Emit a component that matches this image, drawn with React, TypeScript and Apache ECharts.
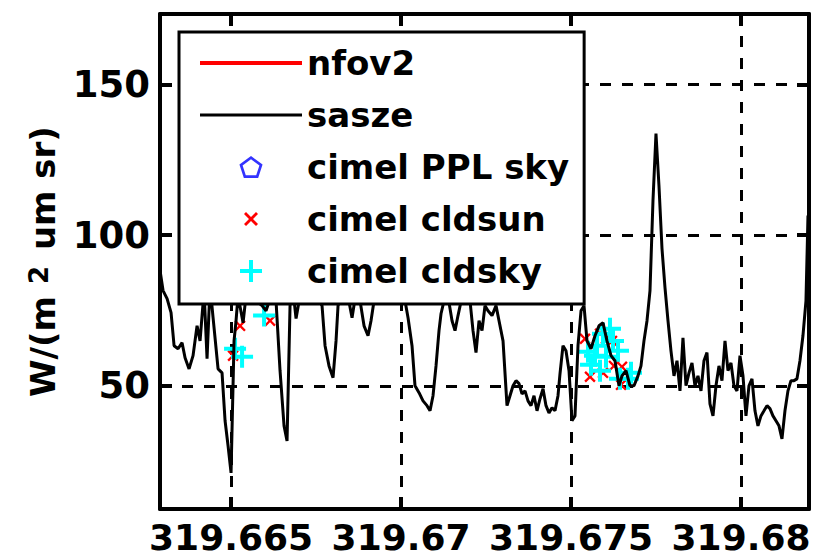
import React, { useEffect, useRef } from "react";
import * as echarts from "echarts";

// ---- data ----
const sasTime = [
  319.662912, 319.663, 319.663118, 319.663235, 319.663324, 319.663441, 319.663559, 319.663647, 319.663765, 319.663882,
  319.664, 319.664088, 319.664206, 319.664294, 319.664382, 319.664471, 319.664618, 319.664735, 319.664824, 319.664912,
  319.665, 319.665088, 319.665147, 319.665206, 319.665353, 319.665441, 319.665559, 319.665735, 319.665912, 319.666029,
  319.666147, 319.666323, 319.666441, 319.666559, 319.666647, 319.666735, 319.666823, 319.666912, 319.667029, 319.667206,
  319.667382, 319.667559, 319.667676, 319.667765, 319.667882, 319.668, 319.668088, 319.668147, 319.668265, 319.668441,
  319.668559, 319.668647, 319.668794, 319.668912, 319.669029, 319.669117, 319.669206, 319.669323, 319.669441, 319.669617,
  319.669794, 319.66997, 319.670117, 319.670206, 319.670323, 319.670411, 319.670529, 319.670647, 319.670764, 319.670853,
  319.670941, 319.671029, 319.671117, 319.671176, 319.671264, 319.671382, 319.6715, 319.671588, 319.671676, 319.671794,
  319.671911, 319.672029, 319.672117, 319.672205, 319.672294, 319.672382, 319.67247, 319.672558, 319.672676, 319.672794,
  319.672882, 319.673, 319.673117, 319.673205, 319.673294, 319.673382, 319.67347, 319.673558, 319.673647, 319.673735,
  319.673823, 319.673911, 319.674, 319.674088, 319.674176, 319.674264, 319.674352, 319.674441, 319.674529, 319.674617,
  319.674676, 319.674764, 319.674852, 319.674941, 319.675029, 319.675117, 319.675205, 319.675294, 319.675382, 319.67547,
  319.675588, 319.675705, 319.675823, 319.675941, 319.676058, 319.676176, 319.676293, 319.676411, 319.676499, 319.676617,
  319.676735, 319.676852, 319.67697, 319.677058, 319.677146, 319.677235, 319.677323, 319.677411, 319.677499, 319.677587,
  319.677676, 319.677764, 319.677852, 319.67794, 319.678029, 319.678117, 319.678205, 319.678293, 319.678382, 319.67847,
  319.678558, 319.678646, 319.678734, 319.678823, 319.678911, 319.678999, 319.679087, 319.679176, 319.679264, 319.679352,
  319.67944, 319.679529, 319.679617, 319.679705, 319.679793, 319.679881, 319.67997, 319.680058, 319.680146, 319.680234,
  319.680323, 319.680411, 319.680499, 319.680587, 319.680676, 319.680764, 319.680852, 319.68094, 319.681028, 319.681117,
  319.681205, 319.681293, 319.681381, 319.68147, 319.681558, 319.681646, 319.681734, 319.681822, 319.681911, 319.68197,
];
const sasValue = [
  88.2, 81.6, 78.9, 74.3, 63.3, 62.3, 64.3, 59.3, 55.6, 60.0,
  69.9, 64.9, 81.6, 59.0, 83.2, 72.6, 55.6, 54.3, 38.4, 30.1,
  21.1, 64.9, 71.6, 79.9, 70.9, 79.9, 81.6, 78.2, 76.6, 74.9,
  78.9, 78.2, 55.0, 36.7, 31.7, 76.6, 81.6, 72.3, 79.9, 80.9,
  81.6, 78.9, 76.6, 63.3, 56.6, 52.7, 64.9, 76.6, 79.9, 79.6,
  72.6, 78.9, 78.2, 69.9, 66.6, 71.6, 78.2, 80.9, 81.6, 83.2,
  82.2, 80.9, 78.2, 72.6, 63.3, 50.0, 47.7, 45.0, 43.4, 41.7,
  46.7, 56.6, 68.3, 73.9, 78.2, 79.6, 71.6, 68.3, 73.3, 79.6,
  78.2, 78.2, 68.3, 61.0, 71.6, 68.3, 76.6, 74.9, 73.3, 76.6,
  71.6, 64.9, 43.4, 46.7, 50.0, 51.7, 50.7, 47.3, 48.3, 45.0,
  43.4, 46.7, 41.7, 45.7, 49.0, 43.4, 41.0, 42.7, 41.7, 46.7,
  54.0, 63.3, 61.6, 55.0, 38.4, 40.0, 63.3, 74.9, 76.6, 64.9,
  62.3, 66.6, 69.9, 70.9, 64.9, 60.0, 58.3, 50.0, 53.3, 55.0,
  50.0, 50.0, 53.3, 56.6, 64.9, 71.6, 81.6, 111.5, 133.7, 116.4,
  95.5, 82.6, 71.6, 61.6, 53.3, 58.3, 48.3, 65.9, 50.0, 54.3,
  57.6, 50.0, 53.3, 48.3, 58.3, 61.0, 44.0, 40.0, 50.0, 56.6,
  51.7, 64.9, 55.0, 57.6, 50.0, 48.3, 60.0, 53.3, 40.0, 50.0,
  52.3, 41.7, 36.7, 40.0, 41.7, 43.4, 42.4, 40.0, 38.4, 36.7,
  32.4, 41.7, 48.3, 51.7, 51.7, 52.3, 58.3, 66.6, 78.2, 106.5,
];
const cldskyTime = [
  319.665118, 319.665324, 319.665971, 319.675499, 319.675588, 319.675764, 319.675941, 319.676146,
  319.676029, 319.676235, 319.676382, 319.67644, 319.676676, 319.676764, 319.675852, 319.675705,
];
const cldskyValue = [62.3, 59.6, 73.3, 61.3, 57.0, 63.3, 67.3, 68.9, 59.6, 64.9, 61.6, 52.3, 52.3, 54.3, 55.0, 60.0];
const cldsunTime = [
  319.665265, 319.665059, 319.666147, 319.675411, 319.675852, 319.676029, 319.676205, 319.675558,
  319.675941, 319.676264, 319.676499, 319.67647,
];
const cldsunValue = [69.9, 60.0, 71.6, 65.6, 67.3, 65.6, 64.9, 53.0, 54.3, 56.6, 56.3, 50.3];
const pplTime: number[] = [];
const pplValue: number[] = [];
const nfovTime: number[] = [];
const nfovValue: number[] = [];

const xTicks = [319.665, 319.67, 319.675, 319.68];
const yTicks = [50, 100, 150];
const seriesNames = ["nfov2", "sasze", "cimel PPL sky", "cimel cldsun", "cimel cldsky"];
const yTitle = "W/(m{s|2} um sr)";

const FONT = "DejaVu Sans";
const zip = (t: number[], v: number[]) => t.map((x, i) => [x, v[i]]);

const PLUS = "path://M9 0H13V9H22V13H13V22H9V13H0V9H9Z";
const XMARK = "path://M0 0M22 22M4 6L6 4L11 9L16 4L18 6L13 11L18 16L16 18L11 13L6 18L4 16L9 11Z";
const PENT =
  "path://M11 0L21.46 7.6L17.47 19.9L4.53 19.9L0.54 7.6ZM11 3L3.39 8.53L6.3 17.47L15.7 17.47L18.61 8.53Z";
const LINE4 = "path://M0 0H102V4H0Z";
const LINE3 = "path://M0 0H102V3H0Z";

export default function App() {
  const ref = useRef<HTMLDivElement>(null);
  useEffect(() => {
    if (!ref.current) return;
    const chart = echarts.init(ref.current, undefined, { renderer: "svg" });
    const axisLine = { show: true, onZero: false, lineStyle: { color: "#000", width: 4 } };
    const tickStyle = { color: "#000", width: 4 };
    const labelFont = { fontFamily: FONT, fontSize: 37, fontWeight: "bold" as const, color: "#000" };
    const xMin = 319.66291;
    const xMax = 319.682;
    const yMin = 9.1;
    const yMax = 173.4;
    chart.setOption({
      animation: false,
      backgroundColor: "#fff",
      grid: { left: 160, top: 14, right: 6, bottom: 47, containLabel: false },
      xAxis: [
        {
          type: "value",
          position: "bottom",
          min: xMin,
          max: xMax,
          axisLine,
          axisTick: { show: true, inside: true, length: 12, lineStyle: tickStyle, customValues: xTicks },
          axisLabel: {
            ...labelFont,
            fontSize: 36,
            lineHeight: 32,
            margin: 12,
            customValues: xTicks,
            formatter: (v: number) => String(+v.toFixed(3)),
          },
          splitLine: { show: true, lineStyle: { color: "#000", width: 3, type: [11, 11] } },
        },
        {
          type: "value",
          position: "top",
          min: xMin,
          max: xMax,
          axisLine,
          axisTick: { show: true, inside: true, length: 12, lineStyle: tickStyle, customValues: xTicks },
          axisLabel: { show: false },
          splitLine: { show: false },
        },
      ],
      yAxis: [
        {
          type: "value",
          position: "left",
          min: yMin,
          max: yMax,
          axisLine,
          axisTick: { show: true, inside: true, length: 12, lineStyle: tickStyle, customValues: yTicks },
          axisLabel: { ...labelFont, margin: 10, customValues: yTicks },
          splitLine: { show: true, lineStyle: { color: "#000", width: 3, type: [11, 11] } },
          name: yTitle,
          nameLocation: "middle",
          nameGap: 100,
          nameRotate: 90,
          nameTextStyle: {
            ...labelFont,
            fontSize: 34,
            rich: {
              s: { fontFamily: FONT, fontSize: 26, fontWeight: "bold", color: "#000", verticalAlign: "top", padding: [0, 4, 0, 12] },
            },
          },
        },
        {
          type: "value",
          position: "right",
          min: yMin,
          max: yMax,
          axisLine,
          axisTick: { show: true, inside: true, length: 12, lineStyle: tickStyle, customValues: yTicks },
          axisLabel: { show: false },
          splitLine: { show: false },
        },
      ],
      legend: {
        show: true,
        orient: "vertical",
        left: 179,
        top: 32,
        padding: [14, 15, 16, 21],
        itemWidth: 102,
        itemHeight: 22,
        itemGap: 18,
        backgroundColor: "#fff",
        borderColor: "#000",
        borderWidth: 3,
        selectedMode: false,
        textStyle: { ...labelFont, fontSize: 34 },
        data: [
          { name: seriesNames[0], icon: LINE4 },
          { name: seriesNames[1], icon: LINE3 },
          seriesNames[2],
          seriesNames[3],
          seriesNames[4],
        ],
      },
      series: [
        {
          name: seriesNames[0],
          type: "line",
          data: zip(nfovTime, nfovValue),
          symbol: "none",
          color: "#ff0000",
          lineStyle: { color: "#ff0000", width: 4 },
        },
        {
          name: seriesNames[1],
          type: "line",
          data: zip(sasTime, sasValue),
          symbol: "none",
          color: "#000",
          lineStyle: { color: "#000", width: 3 },
        },
        {
          name: seriesNames[2],
          type: "scatter",
          data: zip(pplTime, pplValue),
          symbol: PENT,
          symbolSize: 22,
          itemStyle: { color: "#0000ff" },
        },
        {
          name: seriesNames[3],
          type: "scatter",
          data: zip(cldsunTime, cldsunValue),
          symbol: XMARK,
          symbolSize: 18,
          itemStyle: { color: "#ff0000", opacity: 1 },
        },
        {
          name: seriesNames[4],
          type: "scatter",
          data: zip(cldskyTime, cldskyValue),
          symbol: PLUS,
          symbolSize: 22,
          itemStyle: { color: "#00ffff", opacity: 1 },
        },
      ],
    });
    return () => chart.dispose();
  }, []);
  return <div ref={ref} style={{ width: 815, height: 556, position: "absolute", left: 0, top: 0 }} />;
}
